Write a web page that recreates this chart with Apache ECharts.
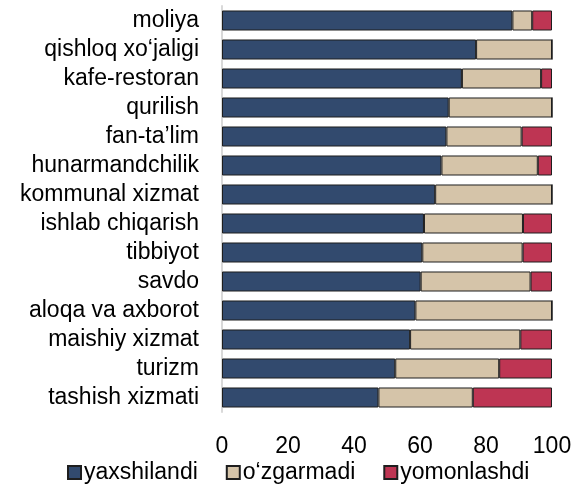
<!DOCTYPE html>
<html>
<head>
<meta charset="utf-8">
<script src="https://cdn.jsdelivr.net/npm/echarts@6/dist/echarts.min.js"></script>
<style>
  html, body { margin: 0; padding: 0; background: #fff; }
  #chart { width: 587px; height: 485px; }
</style>
</head>
<body>
<div id="chart"></div>
<script>
  // categories top to bottom
  const categories = [
    'moliya', 'qishloq xo‘jaligi', 'kafe-restoran', 'qurilish', 'fan-ta’lim',
    'hunarmandchilik', 'kommunal xizmat', 'ishlab chiqarish', 'tibbiyot', 'savdo',
    'aloqa va axborot', 'maishiy xizmat', 'turizm', 'tashish xizmati'
  ];
  const yaxshilandi = [88, 77, 72.7, 68.7, 68, 66.5, 64.6, 61.2, 60.7, 60.2, 58.6, 57, 52.5, 47.4];
  const ozgarmadi   = [6, 23, 24, 31.3, 22.8, 29.2, 35.4, 30, 30.4, 33.3, 41.4, 33.4, 31.5, 28.6];
  const yomonlashdi = [6, 0, 3.3, 0, 9.2, 4.3, 0, 8.8, 8.9, 6.5, 0, 9.6, 16, 24];

  const FONT = '"Liberation Sans", Arial, sans-serif';
  const SIZE = 23;
  const border = { borderColor: '#1e1e1e', borderWidth: 1 };

  const myChart = echarts.init(document.getElementById('chart'));
  const option = {
    animation: false,
    textStyle: { fontFamily: FONT },
    grid: { left: 222, right: 35, top: 6, bottom: 73 },
    legend: {
      left: 62,
      top: 456,
      itemWidth: 13,
      itemHeight: 13,
      itemGap: 28,
      icon: 'rect',
      textStyle: { fontFamily: FONT, fontSize: SIZE, color: '#000', padding: [0, 0, 0, -2] },
      data: ['yaxshilandi', 'o‘zgarmadi', 'yomonlashdi']
    },
    xAxis: {
      type: 'value',
      min: 0,
      max: 100,
      interval: 20,
      axisLine: { show: false },
      axisTick: { show: false },
      splitLine: { show: false },
      axisLabel: { fontFamily: FONT, fontSize: SIZE, color: '#000', margin: 23 }
    },
    yAxis: {
      type: 'category',
      inverse: true,
      data: categories,
      axisLine: { show: true, lineStyle: { color: '#d9d9d9', width: 2 } },
      axisTick: { show: false },
      axisLabel: { fontFamily: FONT, fontSize: SIZE, color: '#000', margin: 23, interval: 0 }
    },
    series: [
      {
        name: 'yaxshilandi', type: 'bar', stack: 'all', barCategoryGap: '31%',
        itemStyle: Object.assign({ color: '#324a6e' }, border),
        data: yaxshilandi
      },
      {
        name: 'o‘zgarmadi', type: 'bar', stack: 'all',
        itemStyle: Object.assign({ color: '#d5c4a9' }, border),
        data: ozgarmadi
      },
      {
        name: 'yomonlashdi', type: 'bar', stack: 'all',
        itemStyle: Object.assign({ color: '#be3553' }, border),
        data: yomonlashdi
      }
    ]
  };
  option && myChart.setOption(option);
</script>
</body>
</html>
